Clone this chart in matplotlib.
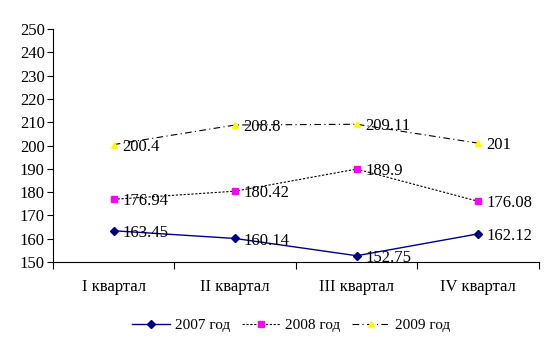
import numpy as np
import matplotlib.pyplot as plt

plt.rcParams['font.family'] = ['Liberation Serif', 'DejaVu Serif']

kvartaly = ["I квартал", "II квартал", "III квартал", "IV квартал"]
god_2007 = [163.45, 160.14, 152.75, 162.12]
god_2008 = [176.94, 180.42, 189.9, 176.08]
god_2009 = [200.4, 208.8, 209.11, 201]

fig = plt.figure(figsize=(5.55, 3.44), dpi=100)
ax = fig.add_axes([0.0955, 0.238, 0.8755, 0.678])

x = np.arange(len(kvartaly))

ax.plot(x, god_2007, color='#000080', lw=1, marker='D', ms=4,
        mfc='#000080', mec='#000080', label='2007 год')
ax.plot(x, god_2008, color='black', lw=0.8, ls=(0, (2, 1.5)), marker='s', ms=5,
        mfc='#ff00ff', mec='#ff00ff', label='2008 год')
ax.plot(x, god_2009, color='black', lw=0.8, ls=(0, (6, 3, 1, 3)), marker='^', ms=5,
        mfc='#ffff00', mec='#ffff00', label='2009 год')

# подписи значений справа от точек
for ser in (god_2007, god_2008, god_2009):
    for xi, v in zip(x, ser):
        ax.annotate(f"{v:g}", (xi, v), xytext=(6, -1.5), textcoords='offset points',
                    ha='left', va='center', fontsize=12)

ax.set_xlim(-0.5, len(kvartaly) - 0.5)
ax.set_ylim(150, 250)
ax.set_yticks(np.arange(150, 251, 10))
ax.set_xticks(np.arange(-0.5, len(kvartaly), 1))
ax.set_xticklabels([])
ax.set_xticks(x, minor=True)
ax.set_xticklabels(kvartaly, minor=True)
ax.tick_params(axis='x', which='minor', length=0, pad=12, labelsize=12)
ax.tick_params(axis='x', which='major', length=5, direction='out')
ax.tick_params(axis='y', length=4, direction='out', labelsize=12, pad=2)

for s in ('top', 'right'):
    ax.spines[s].set_visible(False)

ax.legend(loc='center', bbox_to_anchor=(0.49, -0.27), ncol=3, frameon=False,
          fontsize=11, handlelength=2.5, columnspacing=0.8, handletextpad=0.3)

fig.savefig('out.png', dpi=100)
